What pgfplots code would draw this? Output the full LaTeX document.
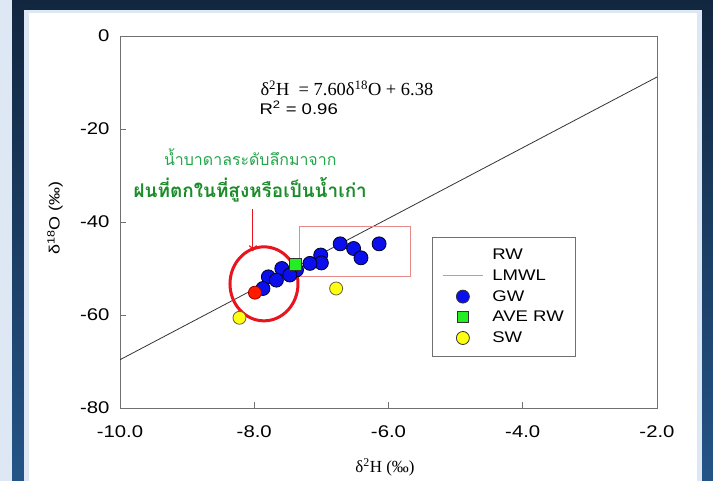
\documentclass[border=0pt]{standalone}
\usepackage{pgfplots}
\pgfplotsset{compat=1.18}
\usepackage{fontspec}
\setmainfont{Liberation Sans}[FakeStretch=1.2]
\newfontfamily\serifst{Liberation Serif}
\newfontfamily\thaifont[Script=Thai]{Loma}
\usetikzlibrary{arrows.meta}
\definecolor{lightbd}{HTML}{DDE8F4}
\definecolor{navytop}{HTML}{12263F}
\definecolor{navybot}{HTML}{245487}
\definecolor{axgray}{HTML}{707070}
\definecolor{thaigreen}{HTML}{22A64A}
\definecolor{thaidark}{HTML}{1B8C2A}
\definecolor{gwblue}{HTML}{0A0FEB}
\definecolor{swyellow}{HTML}{FFFF10}
\definecolor{awgreen}{HTML}{22EE22}
\definecolor{rwred}{HTML}{FF1A00}
\definecolor{annred}{HTML}{E8141E}
\definecolor{boxred}{HTML}{E88A8A}

\pgfplotstableread{
x y
-6.14 -44.7
-6.72 -44.7
-6.52 -45.7
-6.41 -47.7
-7.01 -47.1
-7.00 -48.8
-7.17 -48.9
-7.37 -50.3
-7.59 -50.0
-7.79 -51.8
-7.87 -54.3
-7.67 -52.5
-7.47 -51.4
}\gwdata
\pgfplotstableread{
x y
-6.78 -54.3
-8.22 -60.6
}\swdata

\begin{document}
\begin{tikzpicture}
\fill[lightbd] (0,0) rectangle (713bp,481bp);
\shade[top color=navytop, bottom color=navybot] (12bp,0) rectangle (713bp,481bp);
\fill[lightbd] (24bp,0) rectangle (702bp,471bp);
\fill[white] (29bp,0) rectangle (697bp,468bp);
\path[use as bounding box] (0,0) rectangle (713bp,481bp);
\begin{axis}[
  at={(120bp,73bp)}, anchor=south west,
  scale only axis, width=537bp, height=372bp,
  xmin=-10, xmax=-2, ymin=-80, ymax=0,
  xtick={-10,-8,-6,-4,-2}, ytick={-80,-60,-40,-20,0},
  axis line style={axgray, line width=1pt},
  tick style={axgray, line width=0.9pt},
  tick align=inside, tick pos=left, major tick length=6bp,
  /pgf/number format/assume math mode=true,
  tick label style={font=\fontsize{17}{20}\selectfont},
  xticklabel style={/pgf/number format/fixed, /pgf/number format/fixed zerofill, /pgf/number format/precision=1, yshift=-14bp},
  yticklabel style={xshift=-7bp},
  xlabel={\serifst δ\textsuperscript{2}H (‰)},
  xlabel style={at={(axis description cs:0.4935,-0.159)}, anchor=center, font=\fontsize{17}{19}\selectfont},
  ylabel={δ\textsuperscript{18}O (‰)},
  ylabel style={at={(axis description cs:-0.121,0.51)}, anchor=center, font=\fontsize{15}{17}\selectfont},
  legend style={at={(0.581,0.46)}, anchor=north west, draw=axgray, line width=0.8pt,
    font=\fontsize{15.5}{17}\selectfont, row sep=4.5bp, inner xsep=10bp, inner ysep=10bp,
    /tikz/every odd column/.append style={column sep=7bp}},
  legend cell align=left,
  legend image code/.code={\draw[mark repeat=2,mark phase=2,#1] plot coordinates {(0bp,0bp)(20bp,0bp)(40bp,0bp)};},
]
\addlegendimage{empty legend}
\addlegendentry{RW}
\addlegendimage{boxred, line width=1pt}
\addlegendentry{LMWL}
\addlegendimage{only marks, mark=*, mark size=6.5bp, mark options={fill=gwblue, draw=black!80, line width=0.8pt}}
\addlegendentry{GW}
\addlegendimage{only marks, mark=square*, mark size=5.5bp, mark options={fill=awgreen, draw=black!80, line width=0.8pt}}
\addlegendentry{AVE RW}
\addlegendimage{only marks, mark=*, mark size=6.5bp, mark options={fill=swyellow, draw=black!80, line width=0.8pt}}
\addlegendentry{SW}

\addplot[forget plot, black!80, line width=0.8pt] coordinates {(-10,-69.62) (-2,-8.82)};
\addplot[forget plot, only marks, mark=*, mark size=6.5bp, mark options={fill=swyellow, draw=black!70!yellow, line width=0.8pt}] table[x=x,y=y] {\swdata};
\addplot[forget plot, only marks, mark=*, mark size=7bp, mark options={fill=gwblue, draw=black!85!blue, line width=0.8pt}] table[x=x,y=y] {\gwdata};
\addplot[forget plot, only marks, mark=square*, mark size=6bp, mark options={fill=awgreen, draw=black!80, line width=0.8pt}] coordinates {(-7.39,-49.2)};
\addplot[forget plot, only marks, mark=*, mark size=6.5bp, mark options={fill=rwred, draw=red!60!black, line width=0.8pt}] coordinates {(-7.99,-55.2)};

\draw[boxred, line width=1pt] (axis cs:-7.33,-40.9) rectangle (axis cs:-5.67,-51.8);
\draw[annred, line width=3bp] (axis cs:-7.855,-53.3) ellipse [x radius=34bp, y radius=37bp];
\draw[annred, line width=1.1bp, -{To[length=6bp,width=8bp]}] (axis cs:-8.02,-37.2) -- (axis cs:-8.02,-46.3);

\node[anchor=base west, xshift=-3bp, font=\serifst\fontsize{18.5}{20}\selectfont] at (axis cs:-7.914,-12.9) {δ\textsuperscript{2}H\ \ = 7.60δ\textsuperscript{18}O + 6.38};
\node[anchor=base west, xshift=-4bp, font=\fontsize{15.5}{17}\selectfont] at (axis cs:-7.914,-16.8) {R\textsuperscript{2} = 0.96};
\node[anchor=center, text=thaigreen, font=\thaifont\fontsize{16}{18}\selectfont] at (axis cs:-8.06,-26.0) {น้ำบาดาลระดับลึกมาจาก};
\node[anchor=center, text=thaidark, font=\thaifont\bfseries\fontsize{19}{21}\selectfont] at (axis cs:-8.06,-33.1) {ฝนที่ตกในที่สูงหรือเป็นน้ำเก่า};
\end{axis}
\end{tikzpicture}
\end{document}
